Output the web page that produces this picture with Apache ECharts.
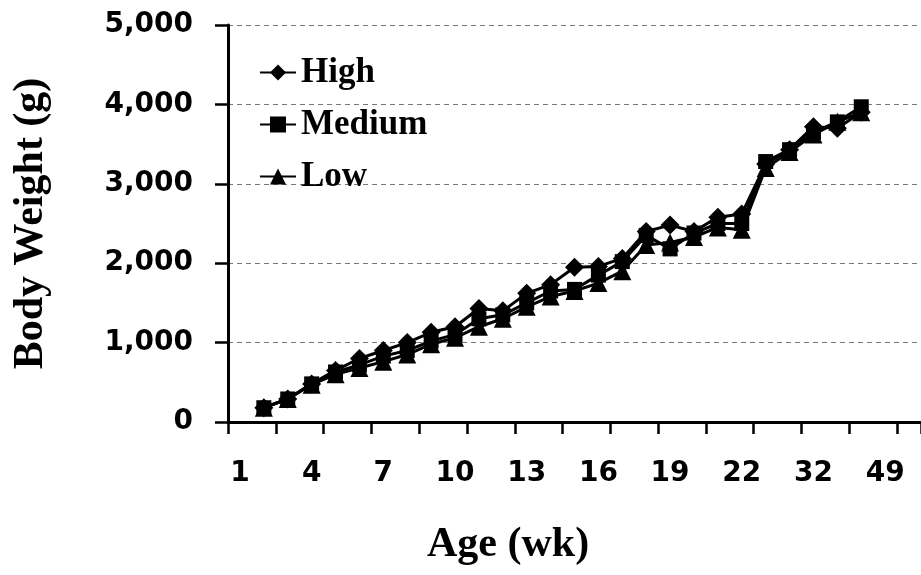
<!DOCTYPE html>
<html>
<head>
<meta charset="utf-8">
<script src="https://cdn.jsdelivr.net/npm/echarts@6/dist/echarts.min.js"></script>
<style>
  html, body { margin: 0; padding: 0; background: #fff; }
  #chart { width: 921px; height: 575px; }
</style>
</head>
<body>
<div id="chart"></div>
<script>
// Age categories (weeks); only every third one is labelled
var weeks = ['1', '2', '3', '4', '5', '6', '7', '8', '9', '10', '11', '12', '13', '14', '15',
    '16', '17', '18', '19', '20', '21', '22', '24', '28', '32', '36', '40', '49', '52'];

// Body weight (g) per group
var high = [null, 180, 290, 480, 650, 800, 900, 1000, 1130, 1200, 1430, 1400, 1620, 1730, 1950,
    1960, 2060, 2400, 2480, 2400, 2580, 2620, 3250, 3430, 3720, 3700, 3900, null, null];
var medium = [null, 180, 290, 480, 630, 720, 830, 900, 1020, 1100, 1300, 1350, 1500, 1650, 1670,
    1850, 2020, 2350, 2180, 2380, 2500, 2500, 3280, 3430, 3650, 3780, 3970, null, null];
var low = [null, 180, 290, 470, 600, 680, 760, 850, 980, 1060, 1200, 1300, 1450, 1580, 1650,
    1750, 1900, 2230, 2260, 2330, 2450, 2420, 3200, 3400, 3620, 3780, 3900, null, null];

var yTicks = [0, 1000, 2000, 3000, 4000, 5000];

var chart = echarts.init(document.getElementById('chart'));

function makeSeries(name, data, symbol, size) {
    return {
        name: name,
        type: 'line',
        data: data,
        symbol: symbol,
        symbolSize: size,
        showSymbol: true,
        showAllSymbol: true,
        connectNulls: false,
        lineStyle: { color: '#000', width: 3 },
        itemStyle: { color: '#000' }
    };
}

var option = {
    animation: false,
    backgroundColor: '#fff',
    grid: { left: 228, top: 25, bottom: 153, right: -6 },
    legend: {
        data: ['High', 'Medium', 'Low'],
        orient: 'vertical',
        left: 254,
        top: 47,
        itemWidth: 36,
        itemHeight: 20,
        itemGap: 11,
        textStyle: {
            fontFamily: 'Liberation Serif',
            fontWeight: 'bold',
            fontSize: 35,
            lineHeight: 41,
            color: '#000'
        }
    },
    xAxis: {
        type: 'category',
        data: weeks,
        boundaryGap: true,
        axisLine: { show: true, lineStyle: { color: '#000', width: 3 } },
        axisTick: { show: true, interval: 1, length: 12, lineStyle: { color: '#000', width: 2.5 } },
        axisLabel: {
            interval: 2,
            margin: 38,
            color: '#000',
            fontFamily: 'DejaVu Sans',
            fontWeight: 'bold',
            fontSize: 28
        },
        splitLine: { show: false }
    },
    yAxis: {
        type: 'value',
        min: yTicks[0],
        max: yTicks[yTicks.length - 1],
        interval: 1000,
        name: 'Body Weight (g)',
        nameLocation: 'middle',
        nameRotate: 90,
        nameGap: 176,
        nameTextStyle: {
            fontFamily: 'Liberation Serif',
            fontWeight: 'bold',
            fontSize: 42,
            color: '#000'
        },
        axisLine: { show: true, lineStyle: { color: '#000', width: 3 } },
        axisTick: { show: true, length: 13, lineStyle: { color: '#000', width: 2.5 } },
        axisLabel: {
            margin: 35,
            color: '#000',
            fontFamily: 'DejaVu Sans',
            fontWeight: 'bold',
            fontSize: 28,
            formatter: function (v) { return v.toLocaleString('en-US'); }
        },
        splitLine: { show: true, lineStyle: { color: '#777', width: 1, type: [5, 4] } }
    },
    graphic: [
        {
            type: 'text',
            left: 427,
            top: 524,
            style: {
                text: 'Age (wk)',
                fontFamily: 'Liberation Serif',
                fontWeight: 'bold',
                fontSize: 42,
                fill: '#000'
            }
        }
    ],
    series: [
        makeSeries('High', high, 'diamond', 19),
        makeSeries('Low', low, 'triangle', 18),
        makeSeries('Medium', medium, 'rect', 15)
    ]
};

chart.setOption(option);
</script>
</body>
</html>
